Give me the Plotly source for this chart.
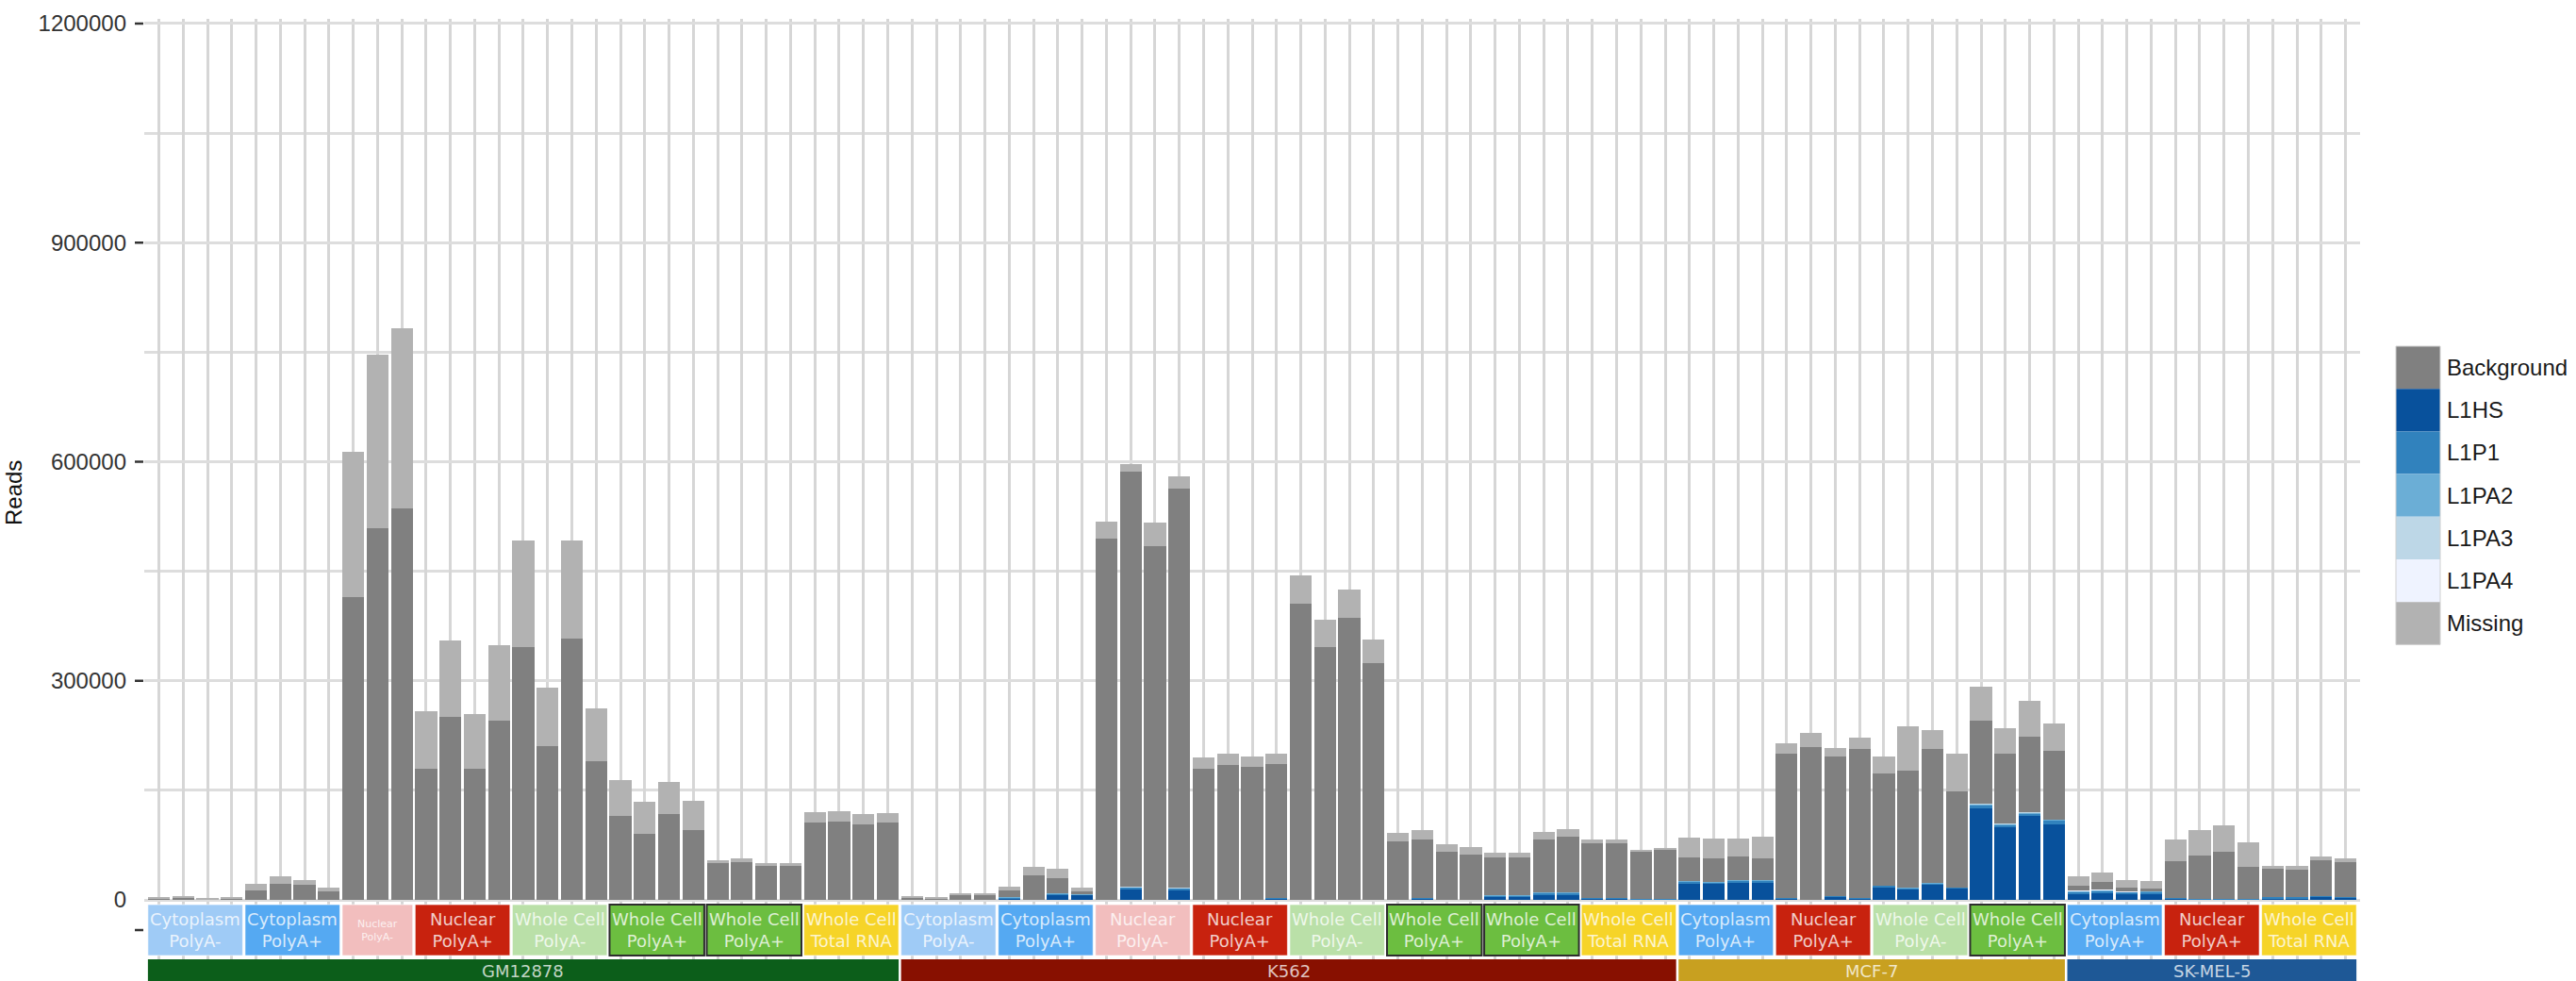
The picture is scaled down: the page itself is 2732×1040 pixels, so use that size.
import plotly.graph_objects as go

# ---------------------------------------------------------------
# Sample layout: cell lines and their fractions (replicate counts)
# ---------------------------------------------------------------
cell_lines = ["GM12878", "K562", "MCF-7", "SK-MEL-5"]
cell_line_colors = ["#0C5E1A", "#881000", "#C8A020", "#1E5896"]

gm12878_fractions = ["Cytoplasm PolyA-", "Cytoplasm PolyA+", "Nuclear PolyA-", "Nuclear PolyA+",
                     "Whole Cell PolyA-", "Whole Cell PolyA+", "Whole Cell PolyA+", "Whole Cell Total RNA"]
gm12878_counts = [4, 4, 3, 4, 4, 4, 4, 4]

k562_fractions = ["Cytoplasm PolyA-", "Cytoplasm PolyA+", "Nuclear PolyA-", "Nuclear PolyA+",
                  "Whole Cell PolyA-", "Whole Cell PolyA+", "Whole Cell PolyA+", "Whole Cell Total RNA"]
k562_counts = [4, 4, 4, 4, 4, 4, 4, 4]

mcf7_fractions = ["Cytoplasm PolyA+", "Nuclear PolyA+", "Whole Cell PolyA-", "Whole Cell PolyA+"]
mcf7_counts = [4, 4, 4, 4]

skmel5_fractions = ["Cytoplasm PolyA+", "Nuclear PolyA+", "Whole Cell Total RNA"]
skmel5_counts = [4, 4, 4]

fraction_colors = {
    "Cytoplasm PolyA-": "#9FCBF6",
    "Cytoplasm PolyA+": "#55A9F2",
    "Nuclear PolyA-": "#F2BEBE",
    "Nuclear PolyA+": "#C8220E",
    "Whole Cell PolyA-": "#BAE0A8",
    "Whole Cell PolyA+": "#6CBE40",
    "Whole Cell Total RNA": "#F6D428",
}

# ---------------------------------------------------------------
# Read counts per sample (stack segments, bottom to top)
# ---------------------------------------------------------------
L1HS = (
    # GM12878
    [0] * 31
    # K562
    + [0, 0, 0, 0, 2500, 0, 7000, 6500, 0, 14000, 0, 13000, 0, 0, 0, 2000,
       0, 0, 0, 0, 0, 1500, 0, 0, 4500, 4500, 7500, 7500, 1500, 1500, 1200, 1200]
    # MCF-7
    + [23000, 22500, 24500, 24500, 2000, 0, 4000, 2500,
       18000, 14500, 21000, 15500, 125000, 100000, 115000, 103000]
    # SK-MEL-5
    + [8700, 9600, 7400, 7400, 1500, 800, 1000, 800, 2500, 2500, 4200, 2800]
)
L1P1 = (
    [0] * 31
    + [0, 0, 0, 0, 800, 0, 1600, 1200, 0, 3000, 0, 3000, 0, 0, 0, 1000,
       0, 0, 0, 0, 0, 800, 0, 0, 1900, 1900, 2400, 2400, 800, 800, 600, 600]
    + [2000, 1800, 2000, 2000, 500, 300, 800, 600,
       1500, 1400, 1500, 1300, 5000, 3000, 3500, 6000]
    + [2500, 3100, 3100, 3500, 700, 400, 500, 400, 1000, 1000, 1500, 1100]
)
L1PA2 = (
    [0] * 31
    + [0, 0, 0, 0, 300, 0, 400, 300, 0, 800, 0, 700, 0, 0, 0, 0,
       0, 0, 0, 0, 0, 0, 0, 0, 300, 300, 400, 400, 0, 0, 0, 0]
    + [500, 500, 500, 500, 0, 0, 0, 0,
       300, 300, 300, 300, 1000, 800, 900, 1000]
    + [1000, 1000, 800, 800, 0, 0, 0, 0, 0, 0, 0, 0]
)
L1PA3 = (
    [0] * 31
    + [0, 0, 0, 0, 0, 0, 0, 0, 0, 200, 0, 200, 0, 0, 0, 0,
       0, 0, 0, 0, 0, 0, 0, 0, 0, 0, 0, 0, 0, 0, 0, 0]
    + [0, 0, 0, 0, 0, 0, 0, 0,
       0, 0, 0, 0, 200, 200, 200, 200]
    + [400, 400, 300, 300, 0, 0, 0, 0, 0, 0, 0, 0]
)
L1PA4 = (
    [0] * 31
    + [0] * 32
    + [0] * 16
    + [300, 300, 200, 200, 0, 0, 0, 0, 0, 0, 0, 0]
)
Background = (
    [1500, 3000, 1200, 2500, 12900, 22400, 20300, 11600,
     415000, 509000, 536000, 179000, 251000, 179000, 246000,
     346000, 210000, 358000, 190000, 115000, 91000, 117000, 96000,
     50000, 52000, 46000, 47000, 106000, 107000, 103000, 106000]
    + [3000, 2500, 6500, 6500, 9300, 33400, 20100, 4000,
       495000, 569000, 485000, 546700, 180000, 185200, 182200, 183400,
       405000, 345900, 385700, 323600, 80600, 80000, 66400, 62100,
       52000, 52000, 72000, 76300, 74800, 75700, 64600, 66800]
    + [32500, 32200, 32000, 30000, 197500, 209400, 191900, 203100,
       153300, 160400, 183900, 131000, 114200, 96200, 104300, 93900]
    + [5900, 9600, 4400, 3100, 50300, 60000, 64100, 43400, 38900, 38000, 49000, 47700]
)
Missing = (
    [1500, 2000, 1300, 2000, 8700, 9500, 7200, 5600,
     198000, 237000, 247000, 79000, 104000, 76000, 103000,
     146000, 80000, 134000, 72000, 49000, 43000, 44000, 39000,
     4000, 5000, 4000, 4000, 14000, 14000, 14000, 13000]
    + [1300, 900, 2100, 2100, 5100, 11600, 12900, 5000,
       23600, 9600, 31500, 15900, 15000, 15000, 13700, 13800,
       39500, 37700, 39900, 33000, 11500, 13300, 9500, 10800,
       5600, 6400, 11100, 9800, 5200, 4300, 2200, 1300]
    + [27000, 27000, 25500, 29000, 15000, 19300, 11600, 16400,
       22800, 61100, 25800, 52100, 46100, 34500, 48200, 37800]
    + [14000, 13200, 10900, 10900, 30600, 35000, 36300, 34100, 4400, 4400, 4300, 5200]
)

series_names = ["L1HS", "L1P1", "L1PA2", "L1PA3", "L1PA4", "Background", "Missing"]
series_values = [L1HS, L1P1, L1PA2, L1PA3, L1PA4, Background, Missing]
series_colors = ["#08519C", "#3182BD", "#6BAED6", "#BDD7E7", "#EFF3FF", "#808080", "#B2B2B2"]

legend_order = ["Background", "L1HS", "L1P1", "L1PA2", "L1PA3", "L1PA4", "Missing"]

y_ticks = [0, 300000, 600000, 900000, 1200000]
y_minor = [150000, 450000, 750000, 1050000]

# ---------------------------------------------------------------
# Geometry helpers (pixel -> paper) for a fixed-size figure
# ---------------------------------------------------------------
W, H = 2732, 1040
PL, PR, PT, PB = 153, 2503, 20, 1040


def px_x(px):
    return (px - PL) / (PR - PL)


def px_y(py):
    return (PB - py) / (PB - PT)


n_samples = len(Background)
x = list(range(1, n_samples + 1))
Y_MIN, Y_MAX = -111086, 1206450

fig = go.Figure()
for name, vals, col in zip(series_names, series_values, series_colors):
    fig.add_trace(go.Bar(
        x=x, y=vals, name=name, width=0.9,
        marker=dict(color=col, line=dict(width=0)),
        showlegend=False,
    ))

shapes = []
annotations = []

# Fraction and cell-line strips under the bars
FR_TOP, FR_BOT = -6500, -76200
CL_TOP = -81400
FR_MID = (FR_TOP + FR_BOT) / 2
CL_MID = -97000
gap = 0.05

groups = [
    (cell_lines[0], gm12878_fractions, gm12878_counts),
    (cell_lines[1], k562_fractions, k562_counts),
    (cell_lines[2], mcf7_fractions, mcf7_counts),
    (cell_lines[3], skmel5_fractions, skmel5_counts),
]
pos = 0.5
for (cl, fracs, counts), cl_col in zip(groups, cell_line_colors):
    cl_start = pos
    for frac, cnt in zip(fracs, counts):
        x0, x1 = pos, pos + cnt
        outlined = frac == "Whole Cell PolyA+"
        shapes.append(dict(
            type="rect", xref="x", yref="y",
            x0=x0 + gap, x1=x1 - gap, y0=FR_BOT, y1=FR_TOP,
            fillcolor=fraction_colors[frac],
            line=dict(color="#2E2E2E" if outlined else "rgba(255,255,255,0.6)",
                      width=2 if outlined else 1),
            layer="above",
        ))
        size = 18 if cnt >= 4 else 11
        label = frac.replace(" PolyA", "<br>PolyA").replace(" Total", "<br>Total")
        annotations.append(dict(
            x=(x0 + x1) / 2, y=FR_MID, xref="x", yref="y", text=label,
            showarrow=False, xanchor="center", yanchor="middle",
            font=dict(family="DejaVu Sans", size=size, color="rgba(255,255,255,0.78)"),
        ))
        pos = x1
    shapes.append(dict(
        type="rect", xref="x", yref="y",
        x0=cl_start + gap, x1=pos - gap, y0=Y_MIN, y1=CL_TOP,
        fillcolor=cl_col, line=dict(width=0), layer="above",
    ))
    annotations.append(dict(
        x=(cl_start + pos) / 2, y=CL_MID, xref="x", yref="y", text=cl,
        showarrow=False, xanchor="center", yanchor="middle",
        font=dict(family="DejaVu Sans", size=18, color="rgba(255,255,255,0.75)"),
    ))

# Y tick marks (no mark beside zero; one blank mark beside the strip)
for v in y_ticks[1:] + [FR_MID]:
    shapes.append(dict(
        type="line", xref="paper", yref="y",
        x0=px_x(143), x1=px_x(152), y0=v, y1=v,
        line=dict(color="#333333", width=2.5),
    ))

# Legend built from colour blocks
key_x0, key_x1 = 2541, 2588
key_top, key_h = 367, 45.2
for i, name in enumerate(legend_order):
    col = series_colors[series_names.index(name)]
    t = key_top + i * key_h
    shapes.append(dict(
        type="rect", xref="paper", yref="paper",
        x0=px_x(key_x0), x1=px_x(key_x1), y0=px_y(t + key_h), y1=px_y(t),
        fillcolor=col, line=dict(width=0),
    ))
    annotations.append(dict(
        x=px_x(2593), y=px_y(t + key_h / 2), xref="paper", yref="paper",
        text=name, showarrow=False, xanchor="left", yanchor="middle",
        font=dict(family="Liberation Sans, Arial, sans-serif", size=24, color="#1A1A1A"),
    ))
shapes.append(dict(
    type="rect", xref="paper", yref="paper",
    x0=px_x(key_x0), x1=px_x(key_x1),
    y0=px_y(key_top + 7 * key_h), y1=px_y(key_top),
    fillcolor="rgba(0,0,0,0)", line=dict(color="#D0D0D0", width=1),
))

# Y axis title
annotations.append(dict(
    x=px_x(14), y=px_y(523), xref="paper", yref="paper", text="Reads",
    showarrow=False, textangle=-90, xanchor="center", yanchor="middle",
    font=dict(family="Liberation Sans, Arial, sans-serif", size=24, color="#111111"),
))

fig.update_layout(
    width=W, height=H, autosize=False,
    margin=dict(l=PL, r=W - PR, t=PT, b=H - PB, pad=0),
    plot_bgcolor="white", paper_bgcolor="white",
    barmode="stack", showlegend=False,
    font=dict(family="Liberation Sans, Arial, sans-serif"),
    shapes=shapes, annotations=annotations,
    xaxis=dict(
        range=[0.4, n_samples + 0.6], tickmode="array", tickvals=x,
        showticklabels=False, ticks="", showgrid=True,
        gridcolor="#D6D6D6", gridwidth=3, zeroline=False, showline=False,
        automargin=False,
    ),
    yaxis=dict(
        range=[Y_MIN, Y_MAX], tickmode="array", tickvals=y_ticks,
        ticktext=[str(v) for v in y_ticks], ticks="",
        ticklabelstandoff=18,
        tickfont=dict(size=24, color="#333333"),
        showgrid=True, gridcolor="#DDDDDD", gridwidth=3,
        minor=dict(tickvals=y_minor, showgrid=True, gridcolor="#DDDDDD", gridwidth=3),
        zeroline=False, showline=False, automargin=False,
    ),
)

fig.write_html("out.html")
